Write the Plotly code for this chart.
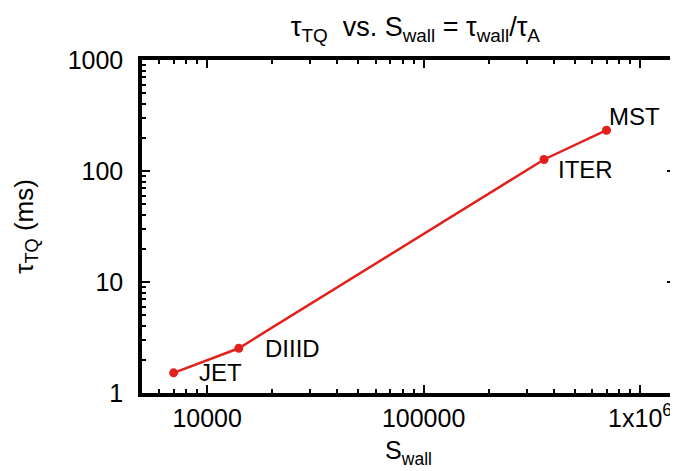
import plotly.graph_objects as go
import math

# Data
machines = ["JET", "DIIID", "ITER", "MST"]
s_wall = [7000, 14000, 360000, 700000]
tau_tq = [1.52, 2.53, 127, 233]

x_tickvals = [10000, 100000, 1000000]
x_ticktext = ["10000", "100000", "1x10<sup>6</sup>"]
y_tickvals = [1, 10, 100, 1000]
y_ticktext = ["1", "10", "100", "1000"]

x_range = [5000, 1.45e6]
y_range = [1, 1000]

# minor tick positions (log sub-decades)
x_minor = [m * 10 ** e for e in range(3, 7) for m in range(2, 10)
           if x_range[0] <= m * 10 ** e <= x_range[1]]
y_minor = [m * 10 ** e for e in range(0, 3) for m in range(2, 10)]

# label offsets (pixels) relative to each point
label_dx = [23, 24, 12, 0]
label_dy = [0, 0, -10, 14]

red = "#e3211c"
font_family = "Liberation Sans, Arial, sans-serif"

fig = go.Figure()
fig.add_trace(go.Scatter(
    x=s_wall, y=tau_tq, mode="lines+markers",
    line=dict(color=red, width=2.5),
    marker=dict(color=red, size=9),
    showlegend=False, hoverinfo="skip",
))
# invisible trace to activate the minor-tick overlay axes
fig.add_trace(go.Scatter(x=[s_wall[0]], y=[tau_tq[0]], xaxis="x2", yaxis="y2",
                         mode="markers", marker=dict(opacity=0), showlegend=False,
                         hoverinfo="skip"))

for name, x, y, dx, dy in zip(machines, s_wall, tau_tq, label_dx, label_dy):
    fig.add_annotation(x=math.log10(x), y=math.log10(y), text=name, showarrow=False,
                       xanchor="left", yanchor="middle", xshift=dx, yshift=dy,
                       font=dict(size=24, color="black", family=font_family))

axis_common = dict(
    type="log", showline=True, linewidth=3.5, linecolor="black", mirror="allticks",
    ticks="inside", ticklen=8, tickwidth=2, tickcolor="black",
    showgrid=False, zeroline=False,
    tickfont=dict(size=25, color="black", family=font_family),
    automargin=False,
)
minor_common = dict(
    type="log", showline=True, linewidth=3.5, linecolor="black", mirror="allticks",
    ticks="inside", ticklen=4, tickwidth=1.5, tickcolor="black",
    showgrid=False, zeroline=False, showticklabels=False, automargin=False,
)

xr = [math.log10(x_range[0]), math.log10(x_range[1])]
yr = [math.log10(y_range[0]), math.log10(y_range[1])]

fig.update_layout(
    width=670, height=463,
    margin=dict(l=134, r=3, t=52, b=78),
    paper_bgcolor="white", plot_bgcolor="white",
    font=dict(family=font_family, color="black"),
    title=dict(text="τ<sub>TQ</sub>  vs. S<sub>wall</sub> = τ<sub>wall</sub>/τ<sub>A</sub>",
               x=0.608, xanchor="center", y=0.96, yanchor="middle",
               font=dict(size=27, color="black", family=font_family)),
    xaxis=dict(axis_common, range=xr,
               tickvals=x_tickvals, ticktext=x_ticktext,
               title=dict(text="S<sub>wall</sub>", font=dict(size=25, color="black", family=font_family),
                          standoff=12)),
    yaxis=dict(axis_common, range=yr, ticklabelstandoff=10,
               tickvals=y_tickvals, ticktext=y_ticktext,
               title=dict(text="τ<sub>TQ</sub> (ms)", font=dict(size=26, color="black", family=font_family),
                          standoff=28)),
    xaxis2=dict(minor_common, range=xr, tickvals=x_minor, overlaying="x", anchor="y2", side="bottom"),
    yaxis2=dict(minor_common, range=yr, tickvals=y_minor, overlaying="y", anchor="x2", side="left"),
)

fig.write_html("out.html")
